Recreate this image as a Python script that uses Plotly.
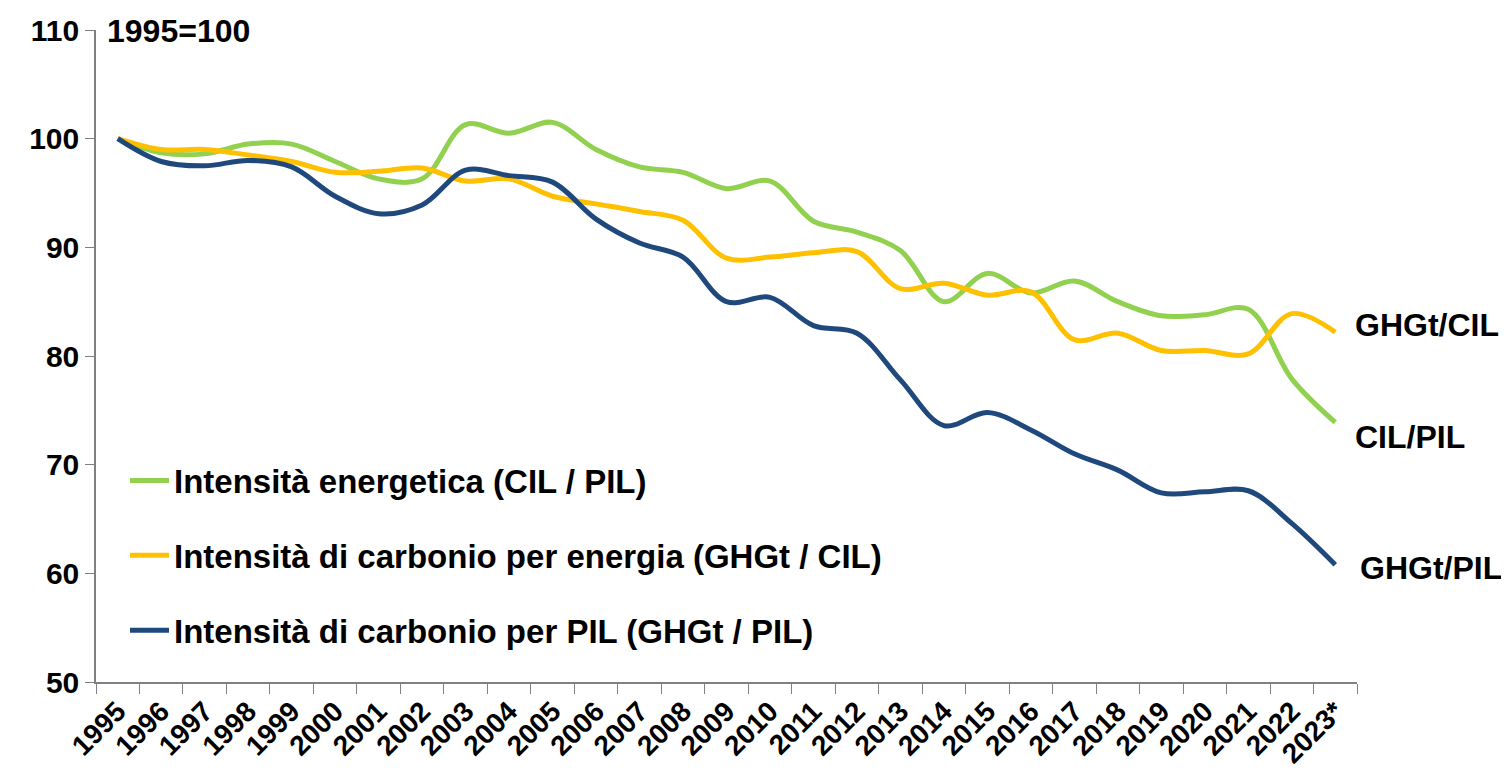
import plotly.graph_objects as go

years = ["1995", "1996", "1997", "1998", "1999", "2000", "2001", "2002", "2003", "2004",
         "2005", "2006", "2007", "2008", "2009", "2010", "2011", "2012", "2013", "2014",
         "2015", "2016", "2017", "2018", "2019", "2020", "2021", "2022", "2023*"]

cil_pil = [100.0, 98.7, 98.6, 99.5, 99.5, 97.9, 96.3, 96.3, 101.3, 100.5,
           101.5, 99.0, 97.4, 96.9, 95.4, 96.1, 92.4, 91.4, 89.7, 85.0,
           87.6, 85.8, 86.9, 85.0, 83.7, 83.8, 84.3, 77.9, 73.9]

ghgt_cil = [100.0, 99.0, 99.0, 98.5, 97.9, 96.9, 97.0, 97.3, 96.1, 96.3,
            94.7, 94.0, 93.3, 92.5, 89.0, 89.1, 89.5, 89.6, 86.2, 86.7,
            85.6, 85.9, 81.5, 82.1, 80.5, 80.5, 80.2, 83.9, 82.2]

ghgt_pil = [100.0, 97.9, 97.5, 98.0, 97.4, 94.7, 93.1, 93.9, 97.1, 96.6,
            96.0, 92.6, 90.4, 89.1, 85.0, 85.4, 82.8, 82.1, 77.8, 73.6,
            74.8, 73.2, 71.0, 69.5, 67.4, 67.5, 67.6, 64.6, 60.8]

names = ["Intensità energetica (CIL / PIL)",
         "Intensità di carbonio per energia (GHGt / CIL)",
         "Intensità di carbonio per PIL (GHGt / PIL)"]
end_labels = ["CIL/PIL", "GHGt/CIL", "GHGt/PIL"]
colors = ["#92D050", "#FFC000", "#1F497D"]
series = [cil_pil, ghgt_cil, ghgt_pil]

font = "Liberation Sans, Arial, sans-serif"

fig = go.Figure()
for i, (nm, vals, col) in enumerate(zip(names, series, colors)):
    fig.add_trace(go.Scatter(
        x=years, y=vals, name=nm, mode="lines",
        line=dict(color=col, width=5, shape="spline", smoothing=1.0),
        legendgroup=str(i),
    ))

fig.update_layout(
    width=1493, height=765,
    margin=dict(l=88, r=144, t=22, b=91),
    paper_bgcolor="white", plot_bgcolor="white",
    showlegend=True,
    legend=dict(
        x=0.023, y=0.352, xanchor="left", yanchor="top",
        font=dict(family=font, size=33, color="black", weight="bold"),
        bgcolor="rgba(0,0,0,0)", tracegroupgap=29,
        itemwidth=39,
    ),
    font=dict(family=font, color="black"),
)
fig.update_xaxes(
    type="category", range=[-0.5, 28.5], automargin=False,
    showline=True, linecolor="#808080", linewidth=1.5,
    ticks="outside", tickson="boundaries", ticklen=10, tickcolor="#808080",
    tickangle=-45, tickfont=dict(family=font, size=28, color="black", weight="bold"),
    showgrid=False, zeroline=False,
)
fig.update_yaxes(
    range=[50, 110], dtick=10, automargin=False,
    showline=True, linecolor="#808080", linewidth=1.5,
    ticks="outside", ticklen=9, tickcolor="#808080",
    tickfont=dict(family=font, size=30, color="black", weight="bold"),
    showgrid=False, zeroline=False,
)

fig.add_annotation(
    text="<b>1995=100</b>", xref="paper", yref="paper", x=0.007, y=1.0,
    xanchor="left", yanchor="middle", yshift=-1, showarrow=False,
    font=dict(family=font, size=32, color="black"),
)

shifts = [(18, -15), (18, 7), (23, -3)]
for lab, vals, (xs, ys) in zip(end_labels, series, shifts):
    fig.add_annotation(
        text="<b>" + lab + "</b>", x=years[-1], y=vals[-1], xref="x", yref="y",
        xanchor="left", yanchor="middle", xshift=xs, yshift=ys, showarrow=False,
        font=dict(family=font, size=32, color="black"),
    )

fig.write_html("out.html")
